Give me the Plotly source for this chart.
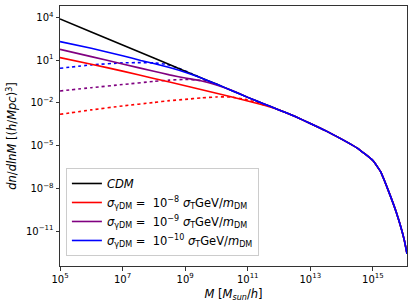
import numpy as np
import plotly.graph_objects as go

# log10(M) grid points and log10(dn/dlnM) values
logM_cdm = [5, 6, 7, 8, 9, 9.5, 10, 10.5, 11, 11.5, 12, 12.5, 13, 13.5, 14, 14.5, 15, 15.25, 15.5, 15.75, 16, 16.09]
logn_cdm = [3.88, 2.97, 2.05, 1.14, 0.22, -0.24, -0.69, -1.15, -1.62, -2.06, -2.50, -2.95, -3.45, -3.97, -4.55, -5.18, -6.05, -6.85, -8.2, -9.7, -11.6, -12.6]

logM_r = [5, 6, 7, 8, 9, 10, 11, 11.5, 12, 12.5, 13, 13.5, 14, 14.5, 15, 15.25, 15.5, 15.75, 16, 16.09]
logn_r = [1.17, 0.71, 0.22, -0.29, -0.80, -1.33, -1.87, -2.16, -2.50, -2.95, -3.45, -3.97, -4.55, -5.18, -6.05, -6.85, -8.2, -9.7, -11.6, -12.6]
logM_r_dot = [5, 6, 7, 8, 8.5, 9, 9.5, 10, 10.5, 11, 11.3, 11.6]
logn_r_dot = [-2.81, -2.50, -2.22, -1.98, -1.85, -1.76, -1.66, -1.59, -1.60, -1.80, -1.98, -2.22]

logM_p = [5, 6, 7, 8, 8.5, 9, 9.5, 10, 10.5, 11, 11.5, 12, 12.5, 13, 13.5, 14, 14.5, 15, 15.25, 15.5, 15.75, 16, 16.09]
logn_p = [1.75, 1.24, 0.72, 0.21, -0.04, -0.26, -0.46, -0.75, -1.14, -1.62, -2.06, -2.50, -2.95, -3.45, -3.97, -4.55, -5.18, -6.05, -6.85, -8.2, -9.7, -11.6, -12.6]
logM_p_dot = [5, 6, 7, 8, 8.5, 9, 9.5, 9.8, 10.1]
logn_p_dot = [-1.17, -0.94, -0.72, -0.50, -0.41, -0.36, -0.42, -0.55, -0.80]

logM_b = [5, 6, 7, 7.58, 8, 8.5, 9, 9.5, 10, 10.5, 11, 11.5, 12, 12.5, 13, 13.5, 14, 14.5, 15, 15.25, 15.5, 15.75, 16, 16.09]
logn_b = [2.29, 1.82, 1.30, 0.97, 0.76, 0.48, 0.15, -0.24, -0.69, -1.15, -1.62, -2.06, -2.50, -2.95, -3.45, -3.97, -4.55, -5.18, -6.05, -6.85, -8.2, -9.7, -11.6, -12.6]
logM_b_dot = [5, 6, 7, 7.58, 8, 8.4, 8.8, 9.2, 9.5]
logn_b_dot = [0.42, 0.66, 0.80, 0.82, 0.80, 0.70, 0.42, 0.05, -0.24]

x_tickvals = [1e5, 1e7, 1e9, 1e11, 1e13, 1e15]
x_ticktext = ["10<sup>5</sup>", "10<sup>7</sup>", "10<sup>9</sup>", "10<sup>11</sup>", "10<sup>13</sup>", "10<sup>15</sup>"]
y_tickvals = [1e4, 1e1, 1e-2, 1e-5, 1e-8, 1e-11]
y_ticktext = ["10<sup>4</sup>", "10<sup>1</sup>", "10<sup>−2</sup>", "10<sup>−5</sup>", "10<sup>−8</sup>", "10<sup>−11</sup>"]

def p10(a):
    return np.power(10.0, np.array(a, dtype=float))

fig = go.Figure()
lw = 1.6
sm = 0.4
# dotted curves (no legend)
fig.add_trace(go.Scatter(x=p10(logM_r_dot), y=p10(logn_r_dot), mode="lines", showlegend=False,
                         line=dict(color="#ff0000", width=lw, dash="dot", shape="spline", smoothing=sm)))
fig.add_trace(go.Scatter(x=p10(logM_p_dot), y=p10(logn_p_dot), mode="lines", showlegend=False,
                         line=dict(color="#800080", width=lw, dash="dot", shape="spline", smoothing=sm)))
fig.add_trace(go.Scatter(x=p10(logM_b_dot), y=p10(logn_b_dot), mode="lines", showlegend=False,
                         line=dict(color="#0000ff", width=lw, dash="dot", shape="spline", smoothing=sm)))
# solid curves
fig.add_trace(go.Scatter(x=p10(logM_cdm), y=p10(logn_cdm), mode="lines", name="<i>CDM</i>",
                         line=dict(color="#000000", width=lw, shape="spline", smoothing=sm)))
fig.add_trace(go.Scatter(x=p10(logM_r), y=p10(logn_r), mode="lines",
                         name="<i>σ</i><sub>γDM</sub> =  10<sup>−8</sup> <i>σ</i><sub>T</sub>GeV/<i>m</i><sub>DM</sub>",
                         line=dict(color="#ff0000", width=lw, shape="spline", smoothing=sm)))
fig.add_trace(go.Scatter(x=p10(logM_p), y=p10(logn_p), mode="lines",
                         name="<i>σ</i><sub>γDM</sub> =  10<sup>−9</sup> <i>σ</i><sub>T</sub>GeV/<i>m</i><sub>DM</sub>",
                         line=dict(color="#800080", width=lw, shape="spline", smoothing=sm)))
fig.add_trace(go.Scatter(x=p10(logM_b), y=p10(logn_b), mode="lines",
                         name="<i>σ</i><sub>γDM</sub> =  10<sup>−10</sup> <i>σ</i><sub>T</sub>GeV/<i>m</i><sub>DM</sub>",
                         line=dict(color="#0000ff", width=lw, shape="spline", smoothing=sm)))

axis_common = dict(showgrid=False, zeroline=False, showline=True, linecolor="#333333", linewidth=1,
                   mirror=True, ticks="outside", ticklen=3.5, tickwidth=1, tickcolor="#333333",
                   automargin=False,
                   tickfont=dict(family="DejaVu Sans", size=10, color="#000000"))

fig.update_layout(
    width=414, height=307,
    margin=dict(l=60, r=7, t=6, b=41),
    paper_bgcolor="white", plot_bgcolor="white",
    font=dict(family="DejaVu Sans", color="#000000"),
    xaxis=dict(type="log", range=[5, 16.09], tickvals=x_tickvals, ticktext=x_ticktext,
               title=dict(text="<i>M</i> [<i>M<sub>sun</sub></i>/<i>h</i>]", font=dict(size=11.5), standoff=6),
               **axis_common),
    yaxis=dict(type="log", range=[-13.45, 4.79], tickvals=y_tickvals, ticktext=y_ticktext,
               title=dict(text="<i>dn</i>/<i>dlnM</i> [(<i>h</i>/<i>Mpc</i>)<sup>3</sup>]", font=dict(size=11.5), standoff=6),
               **axis_common),
    legend=dict(x=0.017, y=0.377, xanchor="left", yanchor="top",
                bgcolor="rgba(255,255,255,0.8)", bordercolor="#cccccc", borderwidth=1,
                font=dict(family="DejaVu Sans", size=11.5, color="#000000"),
                tracegroupgap=0, itemwidth=30),
)

fig.write_html("out.html", config={"displayModeBar": False},
               post_script="document.body.style.margin='0px';")
